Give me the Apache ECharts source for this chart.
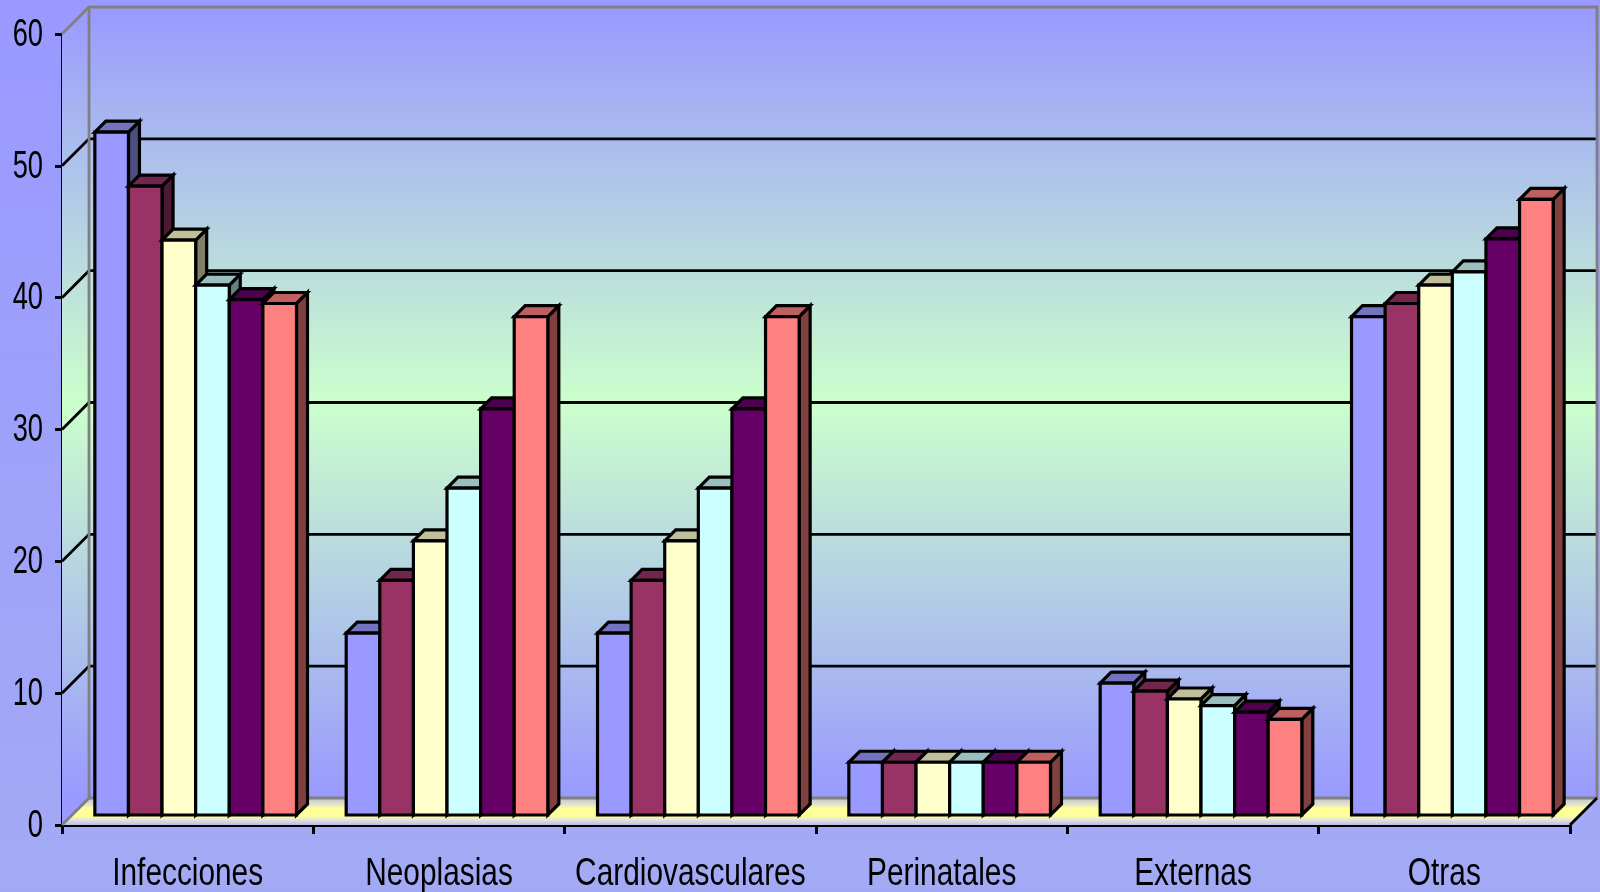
<!DOCTYPE html>
<html>
<head>
<meta charset="utf-8">
<script src="https://cdn.jsdelivr.net/npm/echarts@6/dist/echarts.min.js"></script>
<style>
  html, body { margin: 0; padding: 0; background: #9999ff; }
  #chart { width: 1600px; height: 892px; }
</style>
</head>
<body>
<div id="chart"></div>
<script>
// Causes of death by group, six periods per group (percent)
const categories = ['Infecciones', 'Neoplasias', 'Cardiovasculares', 'Perinatales', 'Externas', 'Otras'];
const serie1 = [51.8, 13.8, 13.8, 4.0, 10.0, 37.8];
const serie2 = [47.7, 17.8, 17.8, 4.0, 9.4, 38.8];
const serie3 = [43.6, 20.8, 20.8, 4.0, 8.8, 40.2];
const serie4 = [40.2, 24.8, 24.8, 4.0, 8.3, 41.2];
const serie5 = [39.1, 30.8, 30.8, 4.0, 7.8, 43.7];
const serie6 = [38.8, 37.8, 37.8, 4.0, 7.25, 46.7];
const seriesNames = ['Serie 1', 'Serie 2', 'Serie 3', 'Serie 4', 'Serie 5', 'Serie 6'];
const seriesValues = [serie1, serie2, serie3, serie4, serie5, serie6];
const yTicks = [0, 10, 20, 30, 40, 50, 60];
const yMin = 0, yMax = 60, yStep = 10;

// Face colours of each series: front, top (shaded), right side (dark)
const frontColors = ['#9999FF', '#993366', '#FFFFCC', '#CCFFFF', '#660066', '#FF8080'];
const topColors   = ['#7373BF', '#73264D', '#BFBF99', '#99BFBF', '#4D004D', '#BF6060'];
const sideColors  = ['#4D4D80', '#4D1A33', '#808066', '#668080', '#330033', '#804040'];

// Oblique 3D geometry (pixels)
const WALL_DEPTH = 27;     // offset of back wall from the front axis plane
const BAR_LIFT = 10;       // bars stand a little behind the front edge of the floor
const BAR_SHIFT = 8;
const BAR_DEPTH = 11;      // thickness of each bar in depth
const BAR_WIDTH_RATIO = 0.1337; // bar width as a share of a category band
const BAR_EDGE = 3.2;
const GRID_EDGE = 2.8;

// Narrow-looking labels: a sans face squeezed horizontally
const LABEL_FONT = "39px 'Liberation Sans', Arial, sans-serif";
const X_LABEL_SCALE = 0.765;
const Y_LABEL_SCALE = 0.70;

function wallGradient(y1, y2) {
  return {
    type: 'linear', global: true, x: 0, y: y1, x2: 0, y2: y2,
    colorStops: [
      { offset: 0, color: '#9999FF' },
      { offset: 0.5, color: '#CCFFCC' },
      { offset: 1, color: '#9999FF' }
    ]
  };
}

function floorGradient(y1, y2) {
  return {
    type: 'linear', global: true, x: 0, y: y1, x2: 0, y2: y2,
    colorStops: [
      { offset: 0, color: '#C4C4CC' },
      { offset: 0.25, color: '#E4E4C8' },
      { offset: 0.38, color: '#FFFF99' },
      { offset: 0.66, color: '#FFFF99' },
      { offset: 0.8, color: '#E6E6D6' },
      { offset: 1, color: '#BCBCF2' }
    ]
  };
}

// Back wall, left side wall, floor and gridlines
function renderRoom(params, api) {
  const cs = params.coordSys;
  const L = cs.x, R = cs.x + cs.width, T = cs.y, B = cs.y + cs.height;
  const D = WALL_DEPTH;
  const children = [];
  children.push({
    type: 'polygon',
    shape: { points: [[L, T], [L + D, T - D], [L + D, B - D], [L, B]] },
    style: { fill: wallGradient(T - D, B - D) }
  });
  children.push({
    type: 'rect',
    shape: { x: L + D, y: T - D, width: R - L, height: B - T },
    style: { fill: wallGradient(T - D, B - D) }
  });
  children.push({
    type: 'polygon',
    shape: { points: [[L, B], [R, B], [R + D, B - D], [L + D, B - D]] },
    style: { fill: floorGradient(B - D, B) }
  });
  for (let v = yMin + yStep; v < yMax; v += yStep) {
    const y = api.coord([0, v])[1];
    children.push({
      type: 'polyline',
      shape: { points: [[L, y], [L + D, y - D], [R + D, y - D]] },
      style: { stroke: '#000', lineWidth: GRID_EDGE, fill: null }
    });
  }
  // grey frame of the walls
  const grey = { stroke: '#808080', lineWidth: GRID_EDGE, fill: null };
  children.push({ type: 'polyline', shape: { points: [[L, T], [L + D, T - D], [R + D, T - D], [R + D, B - D]] }, style: grey });
  children.push({ type: 'polyline', shape: { points: [[L + D, T - D], [L + D, B - D], [R + D, B - D]] }, style: grey });
  children.push({ type: 'line', shape: { x1: L, y1: B, x2: L + D, y2: B - D }, style: grey });
  children.push({ type: 'line', shape: { x1: R, y1: B, x2: R + D, y2: B - D }, style: { stroke: '#000', lineWidth: GRID_EDGE } });
  return { type: 'group', children: children };
}

// One 3D bar: front face, top face and right side
function barRenderer(s) {
  return function (params, api) {
    const idx = api.value(0), val = api.value(1);
    const top = api.coord([idx, val]);
    const base = api.coord([idx, 0]);
    const band = api.size([1, 0])[0];
    const w = band * BAR_WIDTH_RATIO;
    const x0 = top[0] + BAR_SHIFT + (s - 3) * w;
    const x1 = x0 + w;
    const yb = base[1] - BAR_LIFT;
    const yt = top[1] - BAR_LIFT;
    const d = BAR_DEPTH;
    const edge = { stroke: '#000', lineWidth: BAR_EDGE, lineJoin: 'miter' };
    return {
      type: 'group',
      children: [
        { type: 'polygon', shape: { points: [[x1, yt], [x1 + d, yt - d], [x1 + d, yb - d], [x1, yb]] },
          style: Object.assign({ fill: sideColors[s] }, edge) },
        { type: 'polygon', shape: { points: [[x0, yt], [x1, yt], [x1 + d, yt - d], [x0 + d, yt - d]] },
          style: Object.assign({ fill: topColors[s] }, edge) },
        { type: 'rect', shape: { x: x0, y: yt, width: w, height: yb - yt },
          style: Object.assign({ fill: frontColors[s] }, edge) }
      ]
    };
  };
}

// Category names under each band
function renderCategoryLabel(params, api) {
  const i = api.value(0);
  const p = api.coord([i, 0]);
  return {
    type: 'text',
    x: p[0], y: p[1] + 49,
    scaleX: X_LABEL_SCALE,
    style: { text: categories[i], font: LABEL_FONT, fill: '#000', align: 'center', verticalAlign: 'middle' }
  };
}

// Value labels left of the vertical axis
function renderValueLabel(params, api) {
  const v = api.value(1);
  const p = api.coord([0, v]);
  return {
    type: 'text',
    x: params.coordSys.x - 19, y: p[1] + 1,
    scaleX: Y_LABEL_SCALE,
    style: { text: String(v), font: LABEL_FONT, fill: '#000', align: 'right', verticalAlign: 'middle' }
  };
}

const series = [{
  type: 'custom',
  name: 'room',
  silent: true,
  z: 1,
  renderItem: renderRoom,
  data: [[0, 0]]
}];
seriesValues.forEach(function (vals, s) {
  series.push({
    type: 'custom',
    name: seriesNames[s],
    z: 2 + s,
    renderItem: barRenderer(s),
    data: vals.map(function (v, i) { return [i, v]; })
  });
});
series.push({
  type: 'custom', name: 'categoryLabels', silent: true, z: 20, clip: false,
  renderItem: renderCategoryLabel,
  data: categories.map(function (c, i) { return [i, 0]; })
});
series.push({
  type: 'custom', name: 'valueLabels', silent: true, z: 20, clip: false,
  renderItem: renderValueLabel,
  data: yTicks.map(function (v) { return [0, v]; })
});

const chart = echarts.init(document.getElementById('chart'));
chart.setOption({
  animation: false,
  tooltip: { show: false },
  backgroundColor: {
    type: 'linear', x: 0, y: 0, x2: 0, y2: 1,
    colorStops: [
      { offset: 0, color: '#9999FF' },
      { offset: 1, color: '#A3AAF5' }
    ]
  },
  grid: { left: 62, right: 30, top: 34, bottom: 67 },
  xAxis: {
    type: 'category',
    data: categories,
    boundaryGap: true,
    axisLine: { show: true, lineStyle: { color: '#000', width: 3 } },
    axisTick: { show: true, length: 9, lineStyle: { color: '#000', width: 3 } },
    axisLabel: { show: false },
    splitLine: { show: false }
  },
  yAxis: {
    type: 'value',
    min: yMin, max: yMax, interval: yStep,
    axisLine: { show: true, lineStyle: { color: '#000', width: 3 } },
    axisTick: { show: true, length: 7, lineStyle: { color: '#000', width: 3 } },
    axisLabel: { show: false },
    splitLine: { show: false }
  },
  series: series
});
</script>
</body>
</html>
